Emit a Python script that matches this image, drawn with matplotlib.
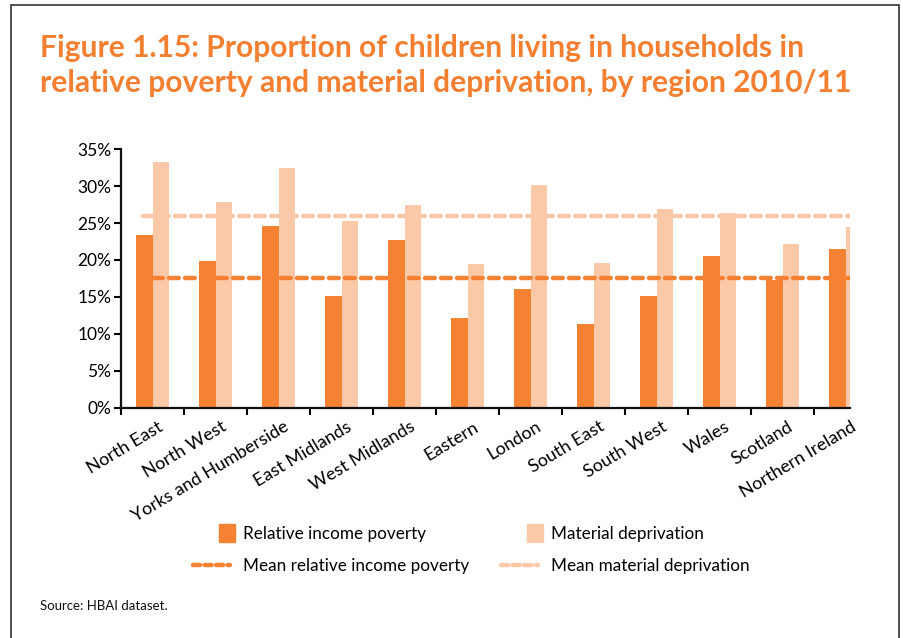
import matplotlib.pyplot as plt
import numpy as np
from matplotlib.patches import Patch, Rectangle
from matplotlib.lines import Line2D
from matplotlib.legend_handler import HandlerPatch
from matplotlib.ticker import FuncFormatter, FixedLocator
from matplotlib.transforms import ScaledTranslation

plt.rcParams["font.family"] = ["Lato", "DejaVu Sans"]

regions = ["North East", "North West", "Yorks and Humberside", "East Midlands",
           "West Midlands", "Eastern", "London", "South East", "South West",
           "Wales", "Scotland", "Northern Ireland"]
relative_poverty = [23.4, 19.9, 24.6, 15.1, 22.7, 12.1, 16.0, 11.3, 15.1, 20.5, 17.3, 21.5]
material_deprivation = [33.3, 27.9, 32.4, 25.3, 27.4, 19.4, 30.2, 19.6, 26.9, 26.4, 22.2, 24.5]
mean_relative = 17.6
mean_material = 26.0

DARK = "#F58233"
LIGHT = "#FCC9A8"
TITLE = "#F47F30"

fig = plt.figure(figsize=(9.04, 6.38), dpi=100)

# frame round the whole figure
fig.add_artist(Rectangle((11 / 904, -0.05), (899 - 11) / 904, 1 - 5 / 638 + 0.05,
                         transform=fig.transFigure, fill=False,
                         edgecolor="#333333", linewidth=1.2))

fig.text(40 / 904, 1 - 34 / 638,
         "Figure 1.15: Proportion of children living in households in\n"
         "relative poverty and material deprivation, by region 2010/11",
         color=TITLE, fontsize=21.6, fontweight="bold", va="top", ha="left",
         linespacing=1.3)

ax = fig.add_axes([121 / 904, 1 - 407.5 / 638, (850 - 121) / 904, (407.5 - 149.3) / 638])

x = np.arange(len(regions))
w = 0.265
ax.bar(x - w / 2, relative_poverty, width=w, color=DARK, zorder=2)
ax.bar(x + w / 2, material_deprivation, width=w, color=LIGHT, zorder=2)

ax.plot([-0.15, 11.2], [mean_material, mean_material], color=LIGHT, lw=3.2,
        dashes=(2.2, 1.4), dash_capstyle="round", zorder=3)
ax.plot([0.0, 11.2], [mean_relative, mean_relative], color=DARK, lw=3.2,
        dashes=(2.2, 1.4), dash_capstyle="round", zorder=3)

ax.set_xlim(-0.5, 11.07)
ax.set_ylim(0, 35)
ax.set_yticks(np.arange(0, 36, 5))
ax.yaxis.set_major_formatter(FuncFormatter(lambda v, p: f"{v:.0f}%"))
ax.tick_params(axis="y", labelsize=12.5, length=5, width=1.5, direction="out", pad=2)

# ticks on the category boundaries, labels under the categories
ax.xaxis.set_major_locator(FixedLocator(x - 0.5))
ax.xaxis.set_minor_locator(FixedLocator(x))
ax.set_xticklabels([])
ax.set_xticklabels(regions, minor=True, rotation=31, ha="right",
                   rotation_mode="anchor", fontsize=13)
ax.tick_params(axis="x", which="major", length=5, width=1.5, direction="out")
ax.tick_params(axis="x", which="minor", length=0, pad=8)
shift = ScaledTranslation(5 / 100, 0, fig.dpi_scale_trans)
for lbl in ax.get_xticklabels(minor=True):
    lbl.set_transform(lbl.get_transform() + shift)

for side in ["top", "right"]:
    ax.spines[side].set_visible(False)
for side in ["left", "bottom"]:
    ax.spines[side].set_linewidth(1.6)
    ax.spines[side].set_color("#111111")


def square_patch(legend, orig_handle, xdescent, ydescent, width, height, fontsize):
    return Rectangle((width - 7.5, height / 2 - 6.5), 11.5, 13)


handler = {Patch: HandlerPatch(patch_func=square_patch)}
common = dict(loc="upper left", frameon=False, fontsize=12.3, handlelength=2.15,
              handletextpad=0.75, labelspacing=0.95, borderpad=0, borderaxespad=0,
              handler_map=handler)

leg1 = fig.legend([Patch(color=DARK),
                   Line2D([], [], color=DARK, lw=3.2, dashes=(1.6, 1.0), dash_capstyle="round")],
                  ["Relative income poverty", "Mean relative income poverty"],
                  bbox_to_anchor=(193 / 904, 1 - 526 / 638), **common)
leg2 = fig.legend([Patch(color=LIGHT),
                   Line2D([], [], color=LIGHT, lw=3.2, dashes=(1.6, 1.0), dash_capstyle="round")],
                  ["Material deprivation", "Mean material deprivation"],
                  bbox_to_anchor=(501 / 904, 1 - 526 / 638), **common)

fig.text(40 / 904, 1 - 606 / 638, "Source: HBAI dataset.", fontsize=9.5,
         va="center", ha="left", color="#111111")

fig.savefig("out.png", dpi=100)
